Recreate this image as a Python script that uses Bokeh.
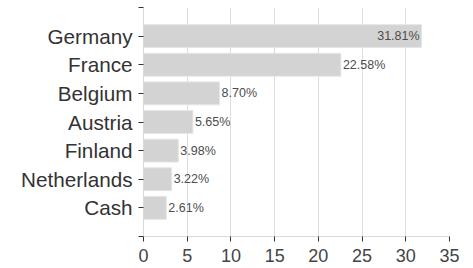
from bokeh.plotting import figure
from bokeh.models import ColumnDataSource, FixedTicker, Range1d
from bokeh.embed import file_html
from bokeh.resources import INLINE
from bokeh.core.properties import value

countries = ["Germany", "France", "Belgium", "Austria", "Finland", "Netherlands", "Cash"]
weights = [31.81, 22.58, 8.70, 5.65, 3.98, 3.22, 2.61]
x_ticks = [0, 5, 10, 15, 20, 25, 30, 35]

n = len(countries)
ypos = [n - i for i in range(n)]
labels = [f"{w:.2f}%" for w in weights]

p = figure(width=465, height=266, x_range=Range1d(0, 35), y_range=Range1d(0, n + 1),
           output_backend="svg", toolbar_location=None,
           min_border_left=143, min_border_right=16, min_border_top=7, min_border_bottom=30)
p.outline_line_color = None
p.background_fill_color = "white"
p.border_fill_color = "white"

src = ColumnDataSource(dict(y=ypos, w=weights, lab=labels))
p.hbar(y="y", right="w", left=0, height=0.8, source=src,
       fill_color="#d3d3d3", line_color="#e6e6e6", line_width=1)

inside = [i for i, w in enumerate(weights) if w > 28]
outside = [i for i, w in enumerate(weights) if w <= 28]
src_in = ColumnDataSource(dict(y=[ypos[i] for i in inside], w=[weights[i] for i in inside], lab=[labels[i] for i in inside]))
src_out = ColumnDataSource(dict(y=[ypos[i] for i in outside], w=[weights[i] for i in outside], lab=[labels[i] for i in outside]))
common = dict(text="lab", text_font=value("Liberation Sans"), text_font_size="12.5px",
              text_color="#4d4d4d", text_baseline="middle")
p.text(x="w", y="y", source=src_in, text_align="right", x_offset=-2, **common)
p.text(x="w", y="y", source=src_out, text_align="left", x_offset=2, **common)

# y axis
p.yaxis.ticker = FixedTicker(ticks=list(range(0, n + 2)))
overrides = {0: "", n + 1: ""}
for yv, c in zip(ypos, countries):
    overrides[yv] = c
p.yaxis.major_label_overrides = overrides
p.yaxis.major_label_text_font = "Liberation Sans"
p.yaxis.major_label_text_font_size = "20.7px"
p.yaxis.major_label_text_color = "#333333"
p.yaxis.major_label_standoff = 6
p.yaxis.axis_line_color = "#d9d9d9"
p.yaxis.major_tick_line_color = "#333333"
p.yaxis.major_tick_out = 5
p.yaxis.major_tick_in = 0
p.yaxis.minor_tick_line_color = None
p.ygrid.grid_line_color = None

# x axis
p.xaxis.ticker = FixedTicker(ticks=x_ticks)
p.xaxis.major_label_text_font = "Liberation Sans"
p.xaxis.major_label_text_font_size = "18px"
p.xaxis.major_label_text_color = "#444444"
p.xaxis.major_label_standoff = 7
p.xaxis.axis_line_color = "#d9d9d9"
p.xaxis.major_tick_line_color = "#333333"
p.xaxis.major_tick_out = 5
p.xaxis.major_tick_in = 0
p.xaxis.minor_tick_line_color = None
p.xgrid.ticker = FixedTicker(ticks=x_ticks)
p.xgrid.grid_line_color = "#dddddd"

open("out.html", "w").write(file_html(p, INLINE))
